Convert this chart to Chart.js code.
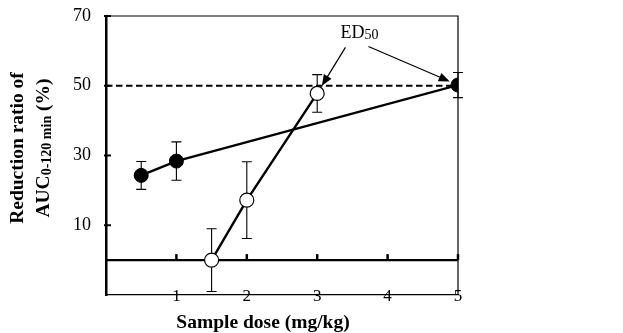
<!DOCTYPE html>
<html>
<head>
<meta charset="utf-8">
<script src="https://cdn.jsdelivr.net/npm/chart.js@4.4.1/dist/chart.umd.min.js"></script>
<style>
  body { margin: 0; background: #fff; }
</style>
</head>
<body>
<canvas id="graph" width="623" height="333"></canvas>
<script>
// data
const dosesA = [0.5, 1, 5];        // filled circles
const ratioA = [24.3, 28.4, 50.2];
const errA = [4, 5.5, 3.6];
const dosesB = [1.5, 2, 3];        // open circles
const ratioB = [0, 17.2, 47.8];
const errB = [9, 11, 5.4];
const yTicks = [10, 30, 50, 70];
const xTicks = [1, 2, 3, 4, 5];
const ed50Level = 50;
const ed50Pos = { x: 3.6, y: 65 };
const ed50Targets = [{ x: 3, y: 47.8 }, { x: 5, y: 50.2 }];

const serif = "'Liberation Serif', 'DejaVu Serif', serif";

function toPoints(xs, ys) {
  return xs.map((x, i) => ({ x: x, y: ys[i] }));
}

// axes frame, zero line, inner ticks, dashed 50% line and error bars
const framePlugin = {
  id: "frame",
  beforeDatasetsDraw(chart) {
    const ctx = chart.ctx;
    const a = chart.chartArea;
    const xs = chart.scales.x;
    const ys = chart.scales.y;
    ctx.save();
    ctx.strokeStyle = "#000";

    // top and right borders (thin)
    ctx.lineWidth = 1.2;
    ctx.beginPath();
    ctx.moveTo(a.left, a.top);
    ctx.lineTo(a.right, a.top);
    ctx.lineTo(a.right, a.bottom);
    ctx.stroke();

    // zero line
    const y0 = ys.getPixelForValue(0);
    ctx.lineWidth = 2.2;
    ctx.beginPath();
    ctx.moveTo(a.left, y0);
    ctx.lineTo(a.right, y0);
    ctx.stroke();

    // ticks up from zero line
    ctx.lineWidth = 2.5;
    xTicks.forEach(v => {
      const px = xs.getPixelForValue(v);
      ctx.beginPath();
      ctx.moveTo(px, y0);
      ctx.lineTo(px, y0 - 6);
      ctx.stroke();
    });

    // inner ticks on the y axis
    ctx.lineWidth = 2;
    yTicks.forEach(v => {
      const py = ys.getPixelForValue(v);
      ctx.beginPath();
      ctx.moveTo(a.left - 2, py);
      ctx.lineTo(a.left + 5, py);
      ctx.stroke();
    });

    // dashed ED50 level
    const y50 = ys.getPixelForValue(ed50Level);
    ctx.lineWidth = 2;
    ctx.setLineDash([6.5, 3.5]);
    ctx.beginPath();
    ctx.moveTo(a.left, y50);
    ctx.lineTo(a.right, y50);
    ctx.stroke();
    ctx.setLineDash([]);

    // error bars
    ctx.lineWidth = 1.1;
    const bars = (xsv, ysv, es) => {
      xsv.forEach((x, i) => {
        const px = xs.getPixelForValue(x);
        const top = ys.getPixelForValue(ysv[i] + es[i]);
        const bot = ys.getPixelForValue(ysv[i] - es[i]);
        ctx.beginPath();
        ctx.moveTo(px, top);
        ctx.lineTo(px, bot);
        ctx.moveTo(px - 5, top);
        ctx.lineTo(px + 5, top);
        ctx.moveTo(px - 5, bot);
        ctx.lineTo(px + 5, bot);
        ctx.stroke();
      });
    };
    bars(dosesA, ratioA, errA);
    bars(dosesB, ratioB, errB);
    ctx.restore();
  },
  afterDraw(chart) {
    const ctx = chart.ctx;
    const a = chart.chartArea;
    const xs = chart.scales.x;
    const ys = chart.scales.y;
    ctx.save();
    ctx.fillStyle = "#000";
    ctx.strokeStyle = "#000";

    // ED50 label
    const lx = xs.getPixelForValue(ed50Pos.x);
    const ly = ys.getPixelForValue(ed50Pos.y);
    ctx.font = "18px " + serif;
    const wED = ctx.measureText("ED").width;
    ctx.font = "14px " + serif;
    const w50 = ctx.measureText("50").width;
    const startX = lx - (wED + w50) / 2;
    ctx.textBaseline = "middle";
    ctx.textAlign = "left";
    ctx.font = "18px " + serif;
    ctx.fillText("ED", startX, ly);
    ctx.font = "14px " + serif;
    ctx.fillText("50", startX + wED, ly + 2);

    // arrows
    const starts = [{ dx: -14, dy: 14 }, { dx: 9, dy: 13 }];
    ed50Targets.forEach((t, i) => {
      const sx = lx + starts[i].dx;
      const sy = ly + starts[i].dy;
      const px = xs.getPixelForValue(t.x);
      const py = ys.getPixelForValue(t.y);
      const len = Math.hypot(px - sx, py - sy);
      const ux = (px - sx) / len;
      const uy = (py - sy) / len;
      const tx = px - ux * 9;
      const ty = py - uy * 9;
      ctx.lineWidth = 1.2;
      ctx.beginPath();
      ctx.moveTo(sx, sy);
      ctx.lineTo(tx - ux * 8, ty - uy * 8);
      ctx.stroke();
      ctx.beginPath();
      ctx.moveTo(tx, ty);
      ctx.lineTo(tx - ux * 11 - uy * 4.5, ty - uy * 11 + ux * 4.5);
      ctx.lineTo(tx - ux * 11 + uy * 4.5, ty - uy * 11 - ux * 4.5);
      ctx.closePath();
      ctx.fill();
    });

    // x title
    ctx.textAlign = "center";
    ctx.textBaseline = "middle";
    ctx.font = "bold 19.5px " + serif;
    ctx.fillText("Sample dose (mg/kg)", 263, 323);

    // y title, two lines rotated
    ctx.translate(0, 148);
    ctx.rotate(-Math.PI / 2);
    ctx.font = "bold 19.5px " + serif;
    ctx.fillText("Reduction ratio of", 0, 18);
    const p1 = "AUC", p2 = "0-120 min", p3 = " (%)";
    const w1 = ctx.measureText(p1).width;
    const w3 = ctx.measureText(p3).width;
    ctx.font = "bold 14px " + serif;
    const w2 = ctx.measureText(p2).width;
    const x0 = -(w1 + w2 + w3) / 2;
    ctx.textAlign = "left";
    ctx.font = "bold 19.5px " + serif;
    ctx.fillText(p1, x0, 44);
    ctx.font = "bold 14px " + serif;
    ctx.fillText(p2, x0 + w1, 47);
    ctx.font = "bold 19.5px " + serif;
    ctx.fillText(p3, x0 + w1 + w2, 44);
    ctx.restore();
  }
};

new Chart(document.getElementById("graph"), {
  type: "scatter",
  data: {
    datasets: [
      {
        data: toPoints(dosesA, ratioA),
        showLine: true,
        borderColor: "#000",
        borderWidth: 2.4,
        backgroundColor: "#000",
        pointBackgroundColor: "#000",
        pointBorderColor: "#000",
        pointRadius: 7,
        pointBorderWidth: 1
      },
      {
        data: toPoints(dosesB, ratioB),
        showLine: true,
        borderColor: "#000",
        borderWidth: 2.4,
        pointBackgroundColor: "#fff",
        pointBorderColor: "#000",
        pointRadius: 7,
        pointBorderWidth: 1.2
      }
    ]
  },
  options: {
    responsive: false,
    animation: false,
    layout: { padding: { left: 0, top: 16, right: 165, bottom: 0 } },
    plugins: {
      legend: { display: false },
      tooltip: { enabled: false }
    },
    scales: {
      x: {
        type: "linear",
        min: 0,
        max: 5,
        grid: { display: false, drawTicks: false },
        border: { color: "#000", width: 1.2 },
        afterBuildTicks: s => { s.ticks = xTicks.map(v => ({ value: v })); },
        afterFit: s => { s.height = 38; },
        ticks: {
          color: "#000",
          mirror: true,
          padding: -12,
          maxRotation: 0,
          font: { family: serif, size: 17 }
        }
      },
      y: {
        min: -10,
        max: 70,
        grid: { display: false, drawTicks: false },
        border: { color: "#000", width: 2.5 },
        afterBuildTicks: s => { s.ticks = yTicks.map(v => ({ value: v })); },
        afterFit: s => { s.width = 106; s.paddingTop = 0; s.paddingBottom = 0; },
        ticks: {
          color: "#000",
          padding: 15,
          font: { family: serif, size: 18 }
        }
      }
    }
  },
  plugins: [framePlugin]
});
</script>
</body>
</html>
